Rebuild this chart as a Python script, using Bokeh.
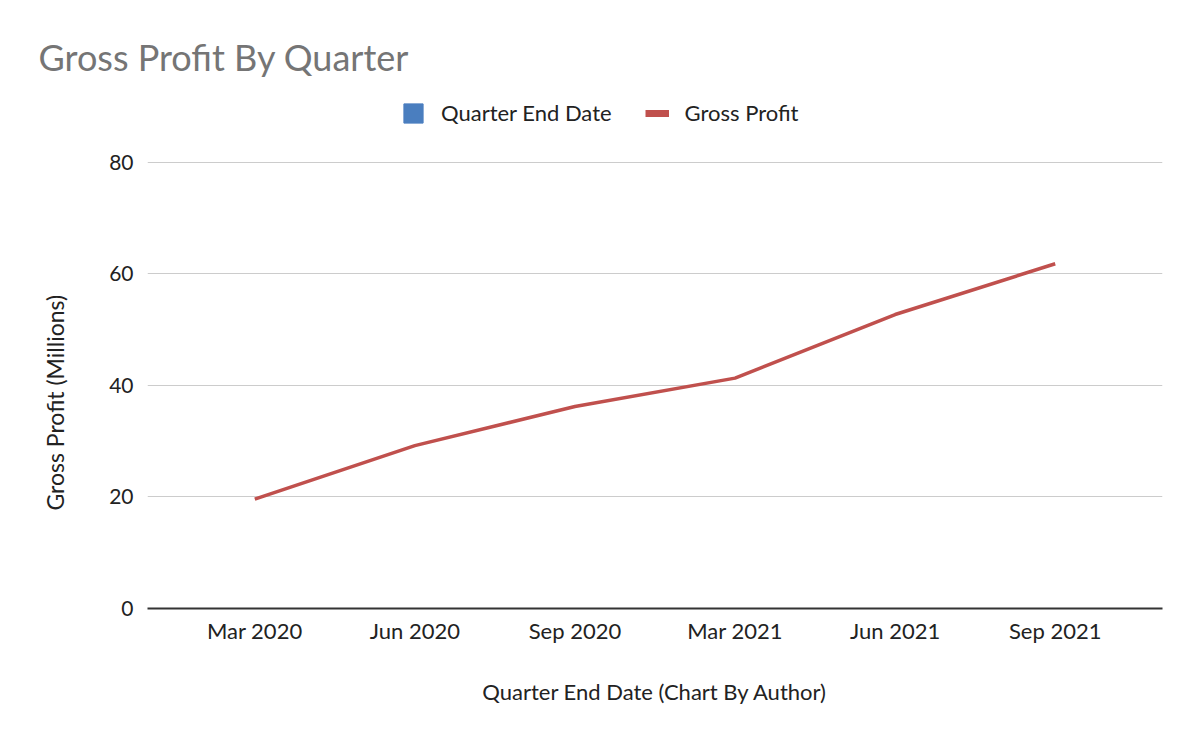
from bokeh.embed import file_html
from bokeh.models import FactorRange, FixedTicker, Legend, LegendItem, Range1d, Title
from bokeh.plotting import figure
from bokeh.resources import INLINE

quarters = ["Mar 2020", "Jun 2020", "Sep 2020", "Mar 2021", "Jun 2021", "Sep 2021"]
gross_profit = [19.6, 29.2, 36.2, 41.3, 52.7, 61.8]
y_ticks = [0, 20, 40, 60, 80]

FONT = "Lato"
RED = "#c0504d"
BLUE = "#4a7ebf"
TEXT = "#222222"
NAN = float("nan")

# frame reaches above the 80 line so the legend can sit inside it
p = figure(width=1192, height=734,
           x_range=FactorRange(factors=quarters, range_padding=0.0567),
           y_range=Range1d(0, 92.5),
           output_backend="svg", toolbar_location=None,
           min_border_left=147, min_border_right=30,
           min_border_top=92, min_border_bottom=126,
           outline_line_color=None)

p.title.text = "Gross Profit By Quarter"
p.title.align = "left"
p.title.offset = -109
p.title.standoff = 28
p.title.text_font = FONT
p.title.text_font_size = "36px"
p.title.text_font_style = "normal"
p.title.text_color = "#757575"

p.line(quarters, gross_profit, line_color=RED, line_width=3.5)

# legend-only renderers (nan values, nothing drawn in the plot)
dummy_box = p.vbar(x=[quarters[0]], top=[NAN], width=0.5,
                   fill_color=BLUE, line_color=BLUE)
dummy_bar = p.line(x=[quarters[0], quarters[1]], y=[NAN, NAN],
                   line_color=RED, line_width=7)

legend = Legend(items=[LegendItem(label="Quarter End Date", renderers=[dummy_box]),
                       LegendItem(label="Gross Profit", renderers=[dummy_bar])],
                orientation="horizontal", location=(254, 482),
                glyph_width=24, glyph_height=24, label_standoff=16, spacing=33,
                label_text_font=FONT, label_text_font_size="22px",
                label_text_color=TEXT, border_line_color=None,
                background_fill_alpha=0, padding=0, margin=0)
p.add_layout(legend, "center")

p.xaxis.axis_line_color = "#333333"
p.xaxis.axis_line_width = 2
p.yaxis.axis_line_color = None
for ax in (p.xaxis, p.yaxis):
    ax.major_tick_line_color = None
    ax.major_tick_out = 0
    ax.minor_tick_line_color = None
    ax.major_label_text_font = FONT
    ax.major_label_text_color = TEXT
p.xaxis.major_label_text_font_size = "22px"
p.yaxis.major_label_text_font_size = "21px"
p.xaxis.major_label_standoff = 8
p.yaxis.major_label_standoff = 14
p.yaxis.ticker = FixedTicker(ticks=y_ticks)

p.xaxis.axis_label = "Quarter End Date (Chart By Author)"
p.xaxis.axis_label_text_font = FONT
p.xaxis.axis_label_text_font_size = "22px"
p.xaxis.axis_label_text_font_style = "normal"
p.xaxis.axis_label_text_color = TEXT
p.xaxis.axis_label_standoff = 31

# y axis title centred on the 0-80 part only, so it is a side Title
ytitle = Title(text="Gross Profit (Millions)", align="left", offset=98,
               standoff=76, text_font=FONT, text_font_size="23px",
               text_font_style="normal", text_color=TEXT)
p.add_layout(ytitle, "left")

p.xgrid.grid_line_color = None
p.ygrid.grid_line_color = "#cccccc"
p.ygrid.grid_line_width = 1

open("out.html", "w").write(file_html(p, INLINE))
